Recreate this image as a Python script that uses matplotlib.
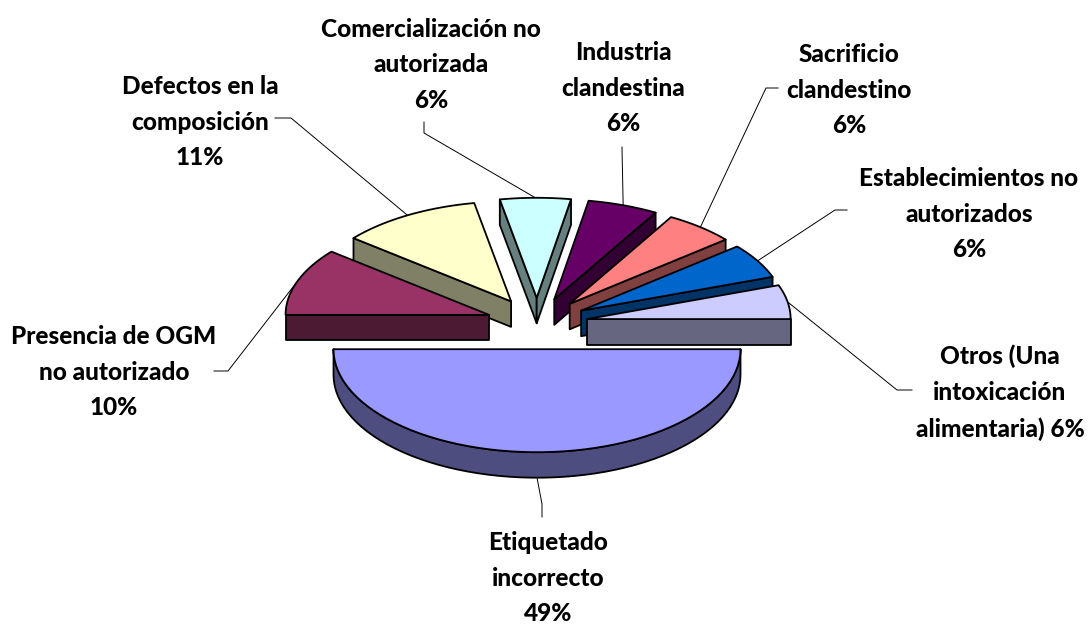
import numpy as np
from matplotlib import pyplot as plt
from matplotlib.patches import Polygon
from matplotlib.colors import to_rgb

# clockwise from the left edge of the pie
names = ['Presencia de OGM\nno autorizado\n10%', 'Defectos en la\ncomposición\n11%',
         'Comercialización no\nautorizada\n6%', 'Industria\nclandestina\n6%',
         'Sacrificio\nclandestino\n6%', 'Establecimientos no\nautorizados\n6%',
         'Otros (Una\nintoxicación\nalimentaria) 6%', 'Etiquetado\nincorrecto\n49%']
# shares as the slices are actually drawn, printed labels are rounded differently
shares = [10.9, 11.2, 5.6, 5.6, 5.6, 5.6, 5.5, 50.0]
colors = ['#993366', '#FFFFCC', '#CCFFFF', '#660066', '#FF8080', '#0066CC', '#CCCCFF', '#9999FF']

label_pos = [(114, 372), (200, 122), (431, 65), (623, 88), (849, 90), (969, 214), (1000, 393), (548, 578)]
# label stub then elbow, the leader ends on the slice itself
leader_pts = [[(214, 371), (228, 371)], [(275, 118), (291, 118)], [(424, 122), (424, 133)],
              [(622, 147), (622, 148)], [(778, 88), (766, 88)], [(847, 210), (835, 210)],
              [(912, 390), (897, 390)], [(542, 517), (542, 504)]]

cx, cy = 537, 323.5
rx = 203.5
ry_front, ry_back = 103, 100  # back of the pie looks a bit flatter in the original
offset_y = 25.7
depth = 25.5
explode = 0.25
edge_w = 1.3


def darker(color):
    return tuple(c * 0.5 for c in to_rgb(color))


def extrude(ax, xs, ys, color):
    px = np.concatenate([xs, xs[::-1]])
    py = np.concatenate([ys, ys[::-1] + depth])
    ax.add_patch(Polygon(np.column_stack([px, py]), closed=True, facecolor=darker(color),
                         edgecolor='black', linewidth=edge_w, joinstyle='round'))


def draw_slice(ax, t0, t1, color):
    mid = (t0 + t1) / 2
    ry = ry_back if np.sin(mid) > 0 else ry_front
    ox = cx + explode * rx * np.cos(mid)
    oy = cy - offset_y * np.sin(mid)
    t = np.linspace(t0, t1, 60)
    ax_x = ox + rx * np.cos(t)
    ax_y = oy - ry * np.sin(t)

    # only faces that look at the viewer get a side, i.e. edges running left on screen
    if ax_x[0] < ox:
        extrude(ax, np.array([ox, ax_x[0]]), np.array([oy, ax_y[0]]), color)
    if ox < ax_x[-1]:
        extrude(ax, np.array([ax_x[-1], ox]), np.array([ax_y[-1], oy]), color)
    if np.all(np.diff(ax_x) < 0):
        extrude(ax, ax_x, ax_y, color)

    top = np.column_stack([np.r_[ox, ax_x], np.r_[oy, ax_y]])
    ax.add_patch(Polygon(top, closed=True, facecolor=color, edgecolor='black',
                         linewidth=edge_w, joinstyle='round'))

    # point in the middle of the outer edge, for the leader
    end_y = oy - ry * np.sin(mid)
    if np.sin(mid) < 0:
        end_y += depth
    return ox + rx * np.cos(mid), end_y


fig = plt.figure(figsize=(10.91, 6.24), dpi=100)
ax = fig.add_axes([0, 0, 1, 1])
ax.set_xlim(0, 1091)
ax.set_ylim(624, 0)
ax.axis('off')

edges = np.pi - np.r_[0, np.cumsum(shares)] / np.sum(shares) * 2 * np.pi
mids = (edges[:-1] + edges[1:]) / 2

ends = {}
# back slices first so the front ones cover them
for i in np.argsort(-np.sin(mids)):
    ends[i] = draw_slice(ax, edges[i], edges[i + 1], colors[i])

for i, pts in enumerate(leader_pts):
    xs = [p[0] for p in pts] + [ends[i][0]]
    ys = [p[1] for p in pts] + [ends[i][1]]
    ax.plot(xs, ys, color='black', lw=0.7, zorder=0.5)

for name, pos in zip(names, label_pos):
    ax.text(pos[0], pos[1], name, ha='center', va='center', family='Lato', weight=900,
            fontsize=17.6, linespacing=1.68, color='black')

fig.savefig('out.png', dpi=100)
